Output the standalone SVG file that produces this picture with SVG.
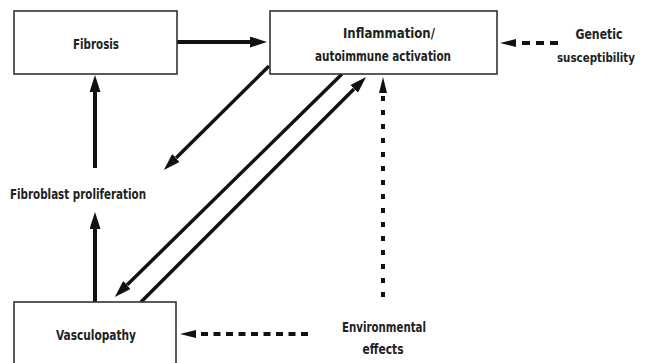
<svg xmlns="http://www.w3.org/2000/svg" width="647" height="363" viewBox="0 0 647 363">
<style>
.box{fill:#fff;stroke:#333;stroke-width:1.6}
.t{font-family:"DejaVu Sans Condensed","Liberation Sans",sans-serif;font-weight:bold;font-size:14.5px;fill:#222;text-anchor:middle}
.solid{stroke:#111;fill:none}
.dash{stroke:#111;fill:none;stroke-width:4}
</style>
<defs>
<marker id="ah" markerUnits="userSpaceOnUse" markerWidth="17" markerHeight="11" viewBox="0 0 17 11" refX="0" refY="5.5" orient="auto">
<path d="M0,0 L17,5.5 L0,11 z" fill="#111"/>
</marker>
<marker id="ahd" markerUnits="userSpaceOnUse" markerWidth="16" markerHeight="8" viewBox="0 0 16 8" refX="0" refY="4" orient="auto">
<path d="M0,0 L16,4 L0,8 z" fill="#111"/>
</marker>
</defs>
<rect width="647" height="363" fill="#fff"/>
<g id="connectors">
<line class="solid" x1="177" y1="42" x2="250" y2="42" stroke-width="4" marker-end="url(#ah)"/>
<line class="solid" x1="95" y1="168" x2="95" y2="92" stroke-width="4" marker-end="url(#ah)"/>
<line class="solid" x1="95" y1="302" x2="95" y2="229" stroke-width="4" marker-end="url(#ah)"/>
<line class="solid" x1="269" y1="66" x2="176" y2="158" stroke-width="3.5" marker-end="url(#ah)"/>
<line class="solid" x1="342" y1="74" x2="127" y2="285" stroke-width="3.5" marker-end="url(#ah)"/>
<line class="solid" x1="141" y1="302" x2="354" y2="89" stroke-width="3.5" marker-end="url(#ah)"/>
<line class="dash" x1="558" y1="43" x2="516" y2="43" stroke-dasharray="8 6" marker-end="url(#ahd)"/>
<line class="dash" x1="308" y1="334" x2="196" y2="334" stroke-dasharray="7 5.5" marker-end="url(#ahd)"/>
<line class="dash" x1="383" y1="297" x2="383" y2="93" stroke-dasharray="5 9" marker-end="url(#ahd)"/>
</g>
<g id="fibrosis">
<rect class="box" x="14" y="11" width="163" height="63"/>
<text class="t" x="96" y="49" textLength="46" lengthAdjust="spacingAndGlyphs">Fibrosis</text>
</g>
<g id="inflammation">
<rect class="box" x="270" y="11" width="227" height="63"/>
<text class="t" x="389" y="38" textLength="92" lengthAdjust="spacingAndGlyphs">Inflammation/</text>
<text class="t" x="383" y="61" textLength="136" lengthAdjust="spacingAndGlyphs">autoimmune activation</text>
</g>
<g id="genetic">
<text class="t" x="599" y="39" textLength="47" lengthAdjust="spacingAndGlyphs">Genetic</text>
<text class="t" x="596" y="62" textLength="78" lengthAdjust="spacingAndGlyphs" style="font-size:12.5px">susceptibility</text>
</g>
<g id="fibroblast">
<text class="t" x="78" y="199" textLength="136" lengthAdjust="spacingAndGlyphs">Fibroblast proliferation</text>
</g>
<g id="vasculopathy">
<rect class="box" x="14" y="302" width="162" height="80"/>
<text class="t" x="96" y="340" textLength="80" lengthAdjust="spacingAndGlyphs">Vasculopathy</text>
</g>
<g id="environmental">
<text class="t" x="384" y="332" textLength="84" lengthAdjust="spacingAndGlyphs">Environmental</text>
<text class="t" x="383" y="354" textLength="41" lengthAdjust="spacingAndGlyphs">effects</text>
</g>
</svg>
